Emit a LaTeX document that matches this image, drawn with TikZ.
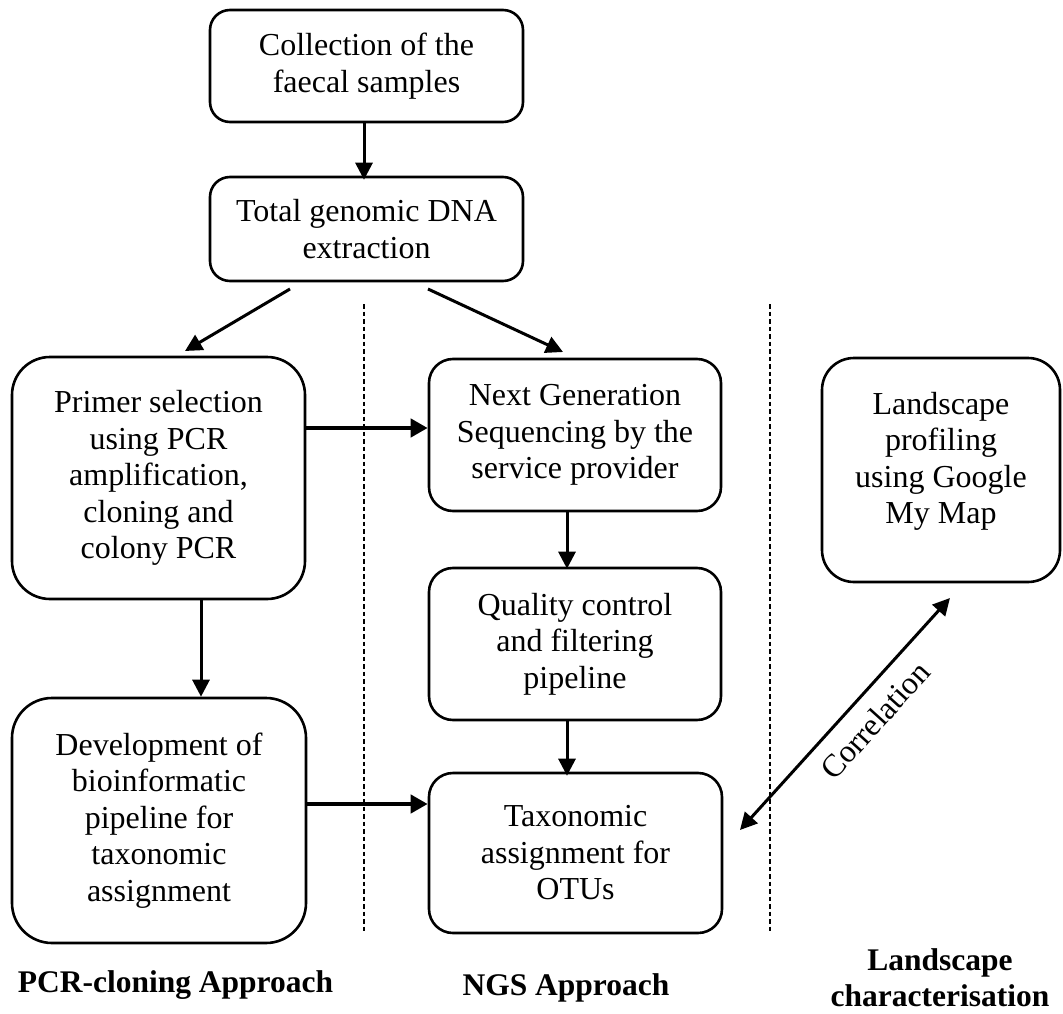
\documentclass[tikz,border=0pt]{standalone}
\usepackage{fontspec}
\setmainfont{Liberation Serif}
\usetikzlibrary{arrows.meta,calc}
\begin{document}
\begin{tikzpicture}[x=1pt,y=-1pt,
  txt/.style={font=\fontsize{32}{36.5}\selectfont},
  box/.style={draw, line width=2.6pt, rounded corners=#1, align=center, inner sep=0pt, txt},
  box/.default=22pt,
  lab/.style={inner sep=0pt, align=center, font=\bfseries\fontsize{31.5}{36.5}\selectfont},
  arr/.style={line width=3pt, -{Triangle[length=17pt,width=17pt]}},
  arrthick/.style={line width=4.8pt, -{Triangle[length=17pt,width=18pt]}},
  darr/.style={line width=3pt, {Triangle[length=17pt,width=17pt]}-{Triangle[length=17pt,width=17pt]}},
  sep/.style={line width=1.1pt, dash pattern=on 4.5pt off 3pt}
]
\useasboundingbox (0,0) rectangle (1063,1014);

% boxes
\node[box=20pt, minimum width=313pt, minimum height=112pt] (b1) at (366.5,66) {Collection of the\\faecal samples};
\node[box=20pt, minimum width=313pt, minimum height=104pt] (b2) at (366.5,229) {Total genomic DNA\\extraction};
\node[box=38pt, minimum width=293pt, minimum height=242pt] (primer) at (158.5,478) {Primer selection\\using PCR\\amplification,\\cloning and\\colony PCR};
\node[box=24pt, minimum width=292pt, minimum height=152pt] (ngs) at (575,435) {Next Generation\\Sequencing by the\\service provider};
\node[box=24pt, minimum width=292pt, minimum height=152pt] (qc) at (575,644) {Quality control\\and filtering\\pipeline};
\node[box=32pt, minimum width=238pt, minimum height=224pt] (land) at (941,470) {Landscape\\profiling\\using Google\\My Map\\[-12pt]};
\node[box=40pt, minimum width=294pt, minimum height=245pt] (dev) at (159,820.5) {Development of\\bioinformatic\\pipeline for\\taxonomic\\assignment};
\node[box=24pt, minimum width=293pt, minimum height=160pt] (tax) at (575.5,853) {Taxonomic\\assignment for\\OTUs};

% separators
\coordinate (s1t) at (364,304); \coordinate (s1b) at (364,933);
\coordinate (s2t) at (770,304); \coordinate (s2b) at (770,933);
\draw[sep] (s1t) -- (s1b);
\draw[sep] (s2t) -- (s2b);

% connectors
\draw[arr] (b1.south -| 364,0) -- ([yshift=-4pt]b2.north -| 364,0);

\coordinate (d1s) at (290,289); \coordinate (d1e) at (185,351);
\coordinate (d2s) at (428,289); \coordinate (d2e) at (563,352);
\draw[arr] (d1s) -- (d1e);
\draw[arr] (d2s) -- (d2e);

\coordinate (ha) at (0,428);
\draw[arrthick] (primer.east |- ha) -- (ngs.west |- ha);
\coordinate (hb) at (0,804);
\draw[arrthick] (dev.east |- hb) -- (tax.west |- hb);

\coordinate (va) at (201,0);
\draw[arr] (primer.south -| va) -- (dev.north -| va);
\coordinate (vb) at (567,0);
\draw[arr] (ngs.south -| vb) -- ([yshift=-2pt]qc.north -| vb);
\draw[arr] (qc.south -| vb) -- ([yshift=-4pt]tax.north -| vb);

\coordinate (ca) at (740,830); \coordinate (cb) at (950,598);
\draw[darr] (ca) -- node[pos=0.55, sloped, below=14pt, inner sep=0pt, txt] (corr) {Correlation} (cb);

% bottom labels
\node[lab, anchor=base] (l1) at (175.5,992) {PCR-cloning Approach};
\node[lab, anchor=base] (l2) at (566,995) {NGS Approach};
\node[lab, anchor=north] (l3) at (940,948) {Landscape\\characterisation};
\end{tikzpicture}
\end{document}
